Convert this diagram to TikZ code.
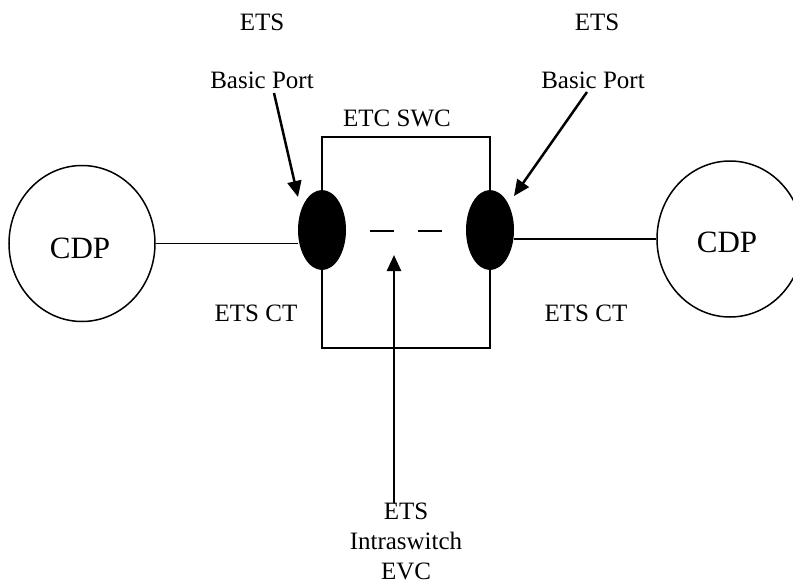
\documentclass[tikz,border=0pt]{standalone}
\usepackage{fontspec}
\setmainfont{Liberation Serif}
\usetikzlibrary{arrows.meta,shapes.geometric}
\begin{document}
\begin{tikzpicture}[x=1pt,y=-1pt,
  lbl/.style={inner sep=0pt,anchor=base,font=\fontsize{25}{30}\selectfont},
  cdp/.style={draw,line width=1.5pt,ellipse,minimum width=146pt,minimum height=156pt,inner sep=0pt},
  portnode/.style={fill=black,ellipse,minimum width=48pt,minimum height=80pt,inner sep=0pt},
  thin/.style={line width=1.5pt},
  pointer/.style={line width=2.5pt,-{Triangle[length=16pt,width=14pt]}}]
\useasboundingbox (0,0) rectangle (793,584);
% switch box
\node[draw,thin,minimum width=168pt,minimum height=211pt,inner sep=0pt] (box) at (406,242.5) {};
\node[portnode] (portL) at (322,230) {};
\node[portnode] (portR) at (490,230) {};
% CDPs
\node[cdp] (cdpL) at (82,243.5) {};
\node[inner sep=0pt,anchor=base,font=\fontsize{31}{36}\selectfont] (cdpLt) at (80,258) {CDP};
\node[cdp] (cdpR) at (730,239) {};
\node[inner sep=0pt,anchor=base,font=\fontsize{31}{36}\selectfont] (cdpRt) at (727,252) {CDP};
% links
\draw[thin] (cdpL.east) -- (cdpL.east -| portL.west);
\draw[thin] (cdpR.west) -- (cdpR.west -| portR.east);
% intraswitch dashes
\coordinate (dA) at (370,231);
\coordinate (dB) at (442,231);
\draw[thin,dash pattern=on 24pt off 24pt] (dA) -- (dB);
% labels
\node[lbl] (etsL) at (262,30) {ETS};
\node[lbl] (etsR) at (597,30) {ETS};
\node[lbl] (bpL) at (262,88) {Basic Port};
\node[lbl] (bpR) at (593,88) {Basic Port};
\node[lbl] (swc) at (397,126) {ETC SWC};
\node[lbl] (ctL) at (256,321) {ETS CT};
\node[lbl] (ctR) at (586,321) {ETS CT};
\node[inner sep=0pt,anchor=north,align=center,font=\fontsize{25}{30}\selectfont] (evc) at (406,503) {ETS\\Intraswitch\\EVC};
% pointers
\coordinate (aL) at (274,93);
\coordinate (aLt) at (298,197);
\coordinate (aR) at (587,92);
\coordinate (aRt) at (514,196);
\coordinate (aV) at (394,503);
\coordinate (aVt) at (394,255);
\draw[pointer] (aL) -- (aLt);
\draw[pointer] (aR) -- (aRt);
\draw[pointer] (aV) -- (aVt);
\end{tikzpicture}
\end{document}
